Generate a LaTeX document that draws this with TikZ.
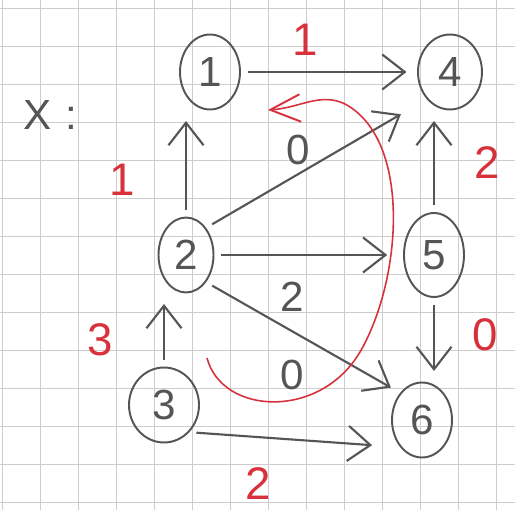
\documentclass[tikz,border=0pt]{standalone}
\usepackage{fontspec}
\setmainfont{Liberation Sans}
\usetikzlibrary{shapes.geometric, arrows.meta}
\definecolor{pencil}{RGB}{85,85,85}
\definecolor{penred}{RGB}{215,50,60}
\definecolor{gridgray}{RGB}{205,205,205}

\begin{document}
\begin{tikzpicture}[
  x=0.02cm, y=-0.02cm,
  vert/.style={ellipse, draw=pencil, line width=1.1pt, text=pencil, minimum width=1.2cm, minimum height=1.5cm, inner sep=0pt, font=\fontsize{24}{28}\selectfont},
  edge/.style={draw=pencil, line width=1.2pt, shorten >=6pt, shorten <=4pt, -{Straight Barb[length=4.5mm, width=7mm, line width=1.2pt]}},
  wt/.style={text=penred, font=\fontsize{26}{30}\selectfont},
  wtgray/.style={text=pencil, font=\fontsize{24}{28}\selectfont}
]
  % paper
  \fill[white] (0,0) rectangle (515,510);
  \useasboundingbox (0,0) rectangle (515,510);
  \foreach \gx in {2,40,...,515} \draw[gridgray, line width=0.5pt] (\gx,0) -- (\gx,510);
  \foreach \gy in {8,46,...,510} \draw[gridgray, line width=0.5pt] (0,\gy) -- (515,\gy);

  \node[wtgray] (xname) at (50,115) {X\,\,:};

  % vertices
  \node[vert] (v1) at (210,72) {1};
  \node[vert, minimum width=1.28cm] (v4) at (450,72) {4};
  \node[vert, minimum width=1.1cm] (v2) at (186,255) {2};
  \node[vert, minimum height=1.68cm] (v5) at (434,255) {5};
  \node[vert, minimum width=1.4cm] (v3) at (164,405) {3};
  \node[vert] (v6) at (422,420) {6};

  % arcs
  \draw[edge] (v1) -- (v4);
  \draw[edge] (v2.north) -- (v2.north |- v1.south);
  \draw[edge, shorten >=17pt] (v2.north east) -- (v4.south west);
  \draw[edge, shorten >=9pt] (v2.east) -- (v5.west);
  \draw[edge] (v2.south east) -- (v6.north west);
  \draw[edge] (v3.north) -- (v3.north |- v2.south);
  \draw[edge, shorten >=16pt] (v3.south east) -- (v6.south west);
  \draw[edge] (v5.north) -- (v5.north |- v4.south);
  \draw[edge] (v5.south) -- (v5.south |- v6.north);

  % weights
  \node[wt] (w14) at (305,40) {1};
  \node[wt] (w21) at (122,180) {1};
  \node[wtgray] (w24) at (298,150) {0};
  \node[wt] (w54) at (487,163) {2};
  \node[wtgray] (w25) at (292,297) {2};
  \node[wt] (w32) at (100,340) {3};
  \node[wt] (w56) at (485,335) {0};
  \node[wtgray] (w26) at (292,375) {0};
  \node[wt] (w36) at (258,484) {2};

  % red loop
  \coordinate (loopstart) at (207,358);
  \coordinate (loopend) at (268,110);
  \draw[penred, line width=0.9pt, -{Straight Barb[length=6mm, width=5.5mm, line width=1.1pt]}]
    (loopstart) .. controls (222,415) and (320,420) .. (360,352)
    .. controls (402,280) and (412,140) .. (345,104)
    .. controls (320,92) and (300,108) .. (loopend);
\end{tikzpicture}
\end{document}
